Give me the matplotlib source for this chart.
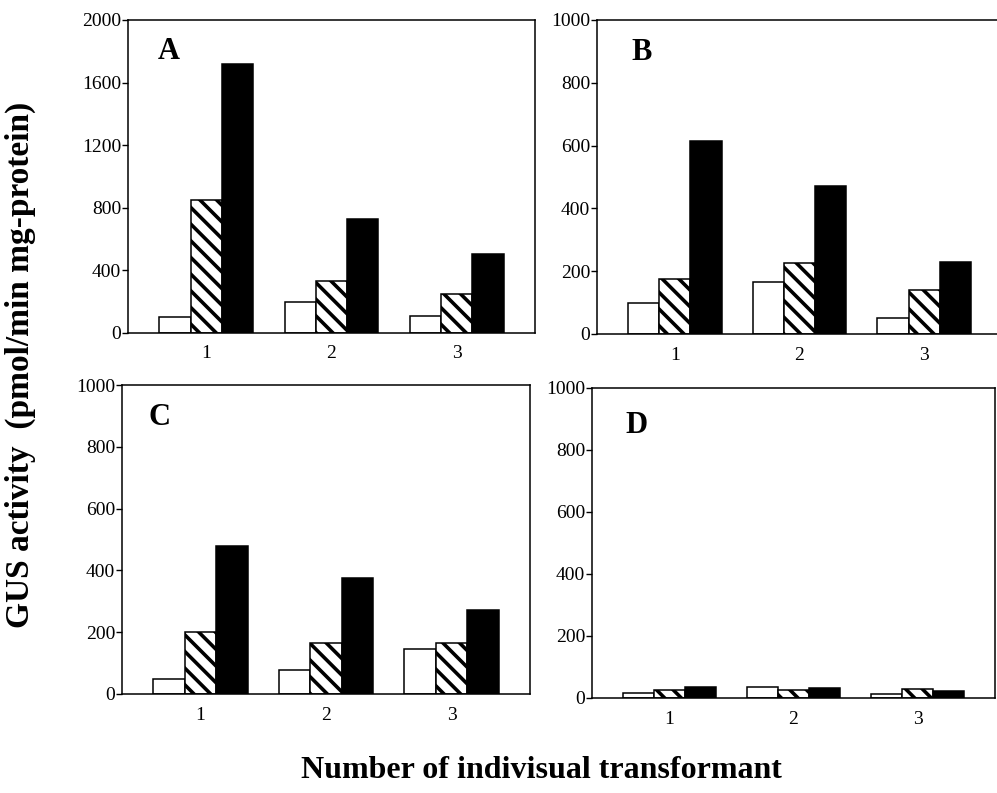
import numpy as np
import matplotlib
matplotlib.use("Agg")
import matplotlib.pyplot as plt

plt.rcParams['font.family'] = ['Liberation Serif', 'DejaVu Serif']
plt.rcParams['hatch.linewidth'] = 2.6

# transformant number on x axis
transformants = [1, 2, 3]

# GUS activity per panel, three bars per transformant
a_white = [100, 200, 110]
a_hatch = [850, 330, 250]
a_black = [1720, 730, 505]

b_white = [100, 165, 50]
b_hatch = [175, 225, 140]
b_black = [615, 470, 228]

c_white = [50, 78, 145]
c_hatch = [200, 165, 165]
c_black = [480, 375, 272]

d_white = [17, 36, 14]
d_hatch = [27, 25, 30]
d_black = [35, 33, 22]

panels = [
    ("A", a_white, a_hatch, a_black, 2000, 400, [128, 20, 407, 313], (0.074, 0.90)),
    ("B", b_white, b_hatch, b_black, 1000, 200, [597, 20, 405, 314], (0.086, 0.895)),
    ("C", c_white, c_hatch, c_black, 1000, 200, [122, 385, 408, 309], (0.066, 0.896)),
    ("D", d_white, d_hatch, d_black, 1000, 200, [592, 388, 403, 310], (0.084, 0.88)),
]

W, H = 997, 793
fig = plt.figure(figsize=(W / 100, H / 100), dpi=100)

x = np.array(transformants)
w = 0.25
for letter, white, hatch, black, ymax, ystep, box, lpos in panels:
    l, t, bw, bh = box
    ax = fig.add_axes([l / W, (H - t - bh) / H, bw / W, bh / H])
    ax.bar(x - w, white, w, color='white', edgecolor='black', linewidth=1.1)
    ax.bar(x, hatch, w, color='white', edgecolor='black', linewidth=1.1, hatch='\\\\')
    ax.bar(x + w, black, w, color='black', edgecolor='black', linewidth=1.1)
    ax.set_xlim(0.375, 3.625)
    ax.set_ylim(0, ymax)
    ax.set_yticks(np.arange(0, ymax + 1, ystep))
    ax.set_xticks(x)
    ax.tick_params(axis='y', direction='out', length=4, width=1, labelsize=14, pad=1)
    ax.tick_params(axis='x', length=0, labelsize=14, pad=9)
    for s in ax.spines.values():
        s.set_linewidth(1.1)
    ax.text(lpos[0], lpos[1], letter, transform=ax.transAxes, fontsize=22,
            fontweight='bold', va='center', ha='left')

fig.text(20 / W, (H - 365) / H, "GUS activity  (pmol/min mg-protein)", rotation=90,
         fontsize=24, fontweight='bold', ha='center', va='center')
fig.text(541 / W, (H - 770) / H, "Number of indivisual transformant",
         fontsize=23, fontweight='bold', ha='center', va='center')

fig.savefig("out.png", dpi=100)
